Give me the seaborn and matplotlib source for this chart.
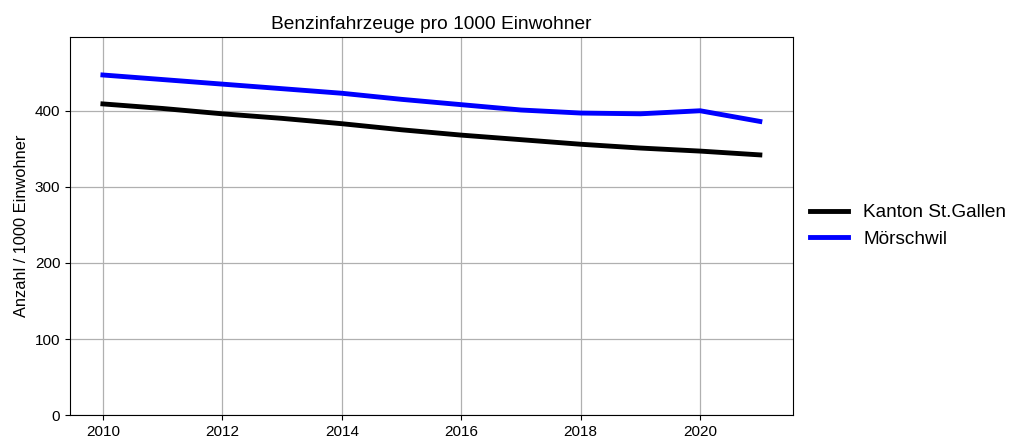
import matplotlib
matplotlib.use("Agg")
import matplotlib.pyplot as plt
import seaborn as sns
import pandas as pd

years = list(range(2010, 2022))
kanton = [409, 403, 396, 390, 383, 375, 368, 362, 356, 351, 347, 342]
moerschwil = [447, 441, 435, 429, 423, 415, 408, 401, 397, 396, 400, 386]
series_names = ["Kanton St.Gallen", "Mörschwil"]

df = pd.DataFrame({
    "Jahr": years * 2,
    "Wert": kanton + moerschwil,
    "Gebiet": [series_names[0]] * len(years) + [series_names[1]] * len(years),
})

plt.rcParams["font.family"] = ["Liberation Sans", "DejaVu Sans"]

fig = plt.figure(figsize=(10.15, 4.45), dpi=100)
ax = fig.add_axes([0.069, 0.067, 0.712, 0.850])
sns.lineplot(data=df, x="Jahr", y="Wert", hue="Gebiet",
             palette={series_names[0]: "black", series_names[1]: "blue"},
             linewidth=3.5, ax=ax)

ax.set_ylim(0, 497)
ax.set_xlim(2009.45, 2021.55)
ax.set_xticks([2010, 2012, 2014, 2016, 2018, 2020])
ax.set_yticks([0, 100, 200, 300, 400])
ax.grid(True, color="#b0b0b0", linewidth=0.9)
ax.set_axisbelow(True)
ax.set_xlabel("")
ax.set_ylabel("Anzahl / 1000 Einwohner", fontsize=11.8)
ax.set_title("Benzinfahrzeuge pro 1000 Einwohner", fontsize=13.8)
ax.tick_params(labelsize=11)

ax.legend(loc="center left", bbox_to_anchor=(1.0, 0.5), frameon=False,
          fontsize=13.7, handlelength=2.0)

fig.savefig("out.png", dpi=100)
